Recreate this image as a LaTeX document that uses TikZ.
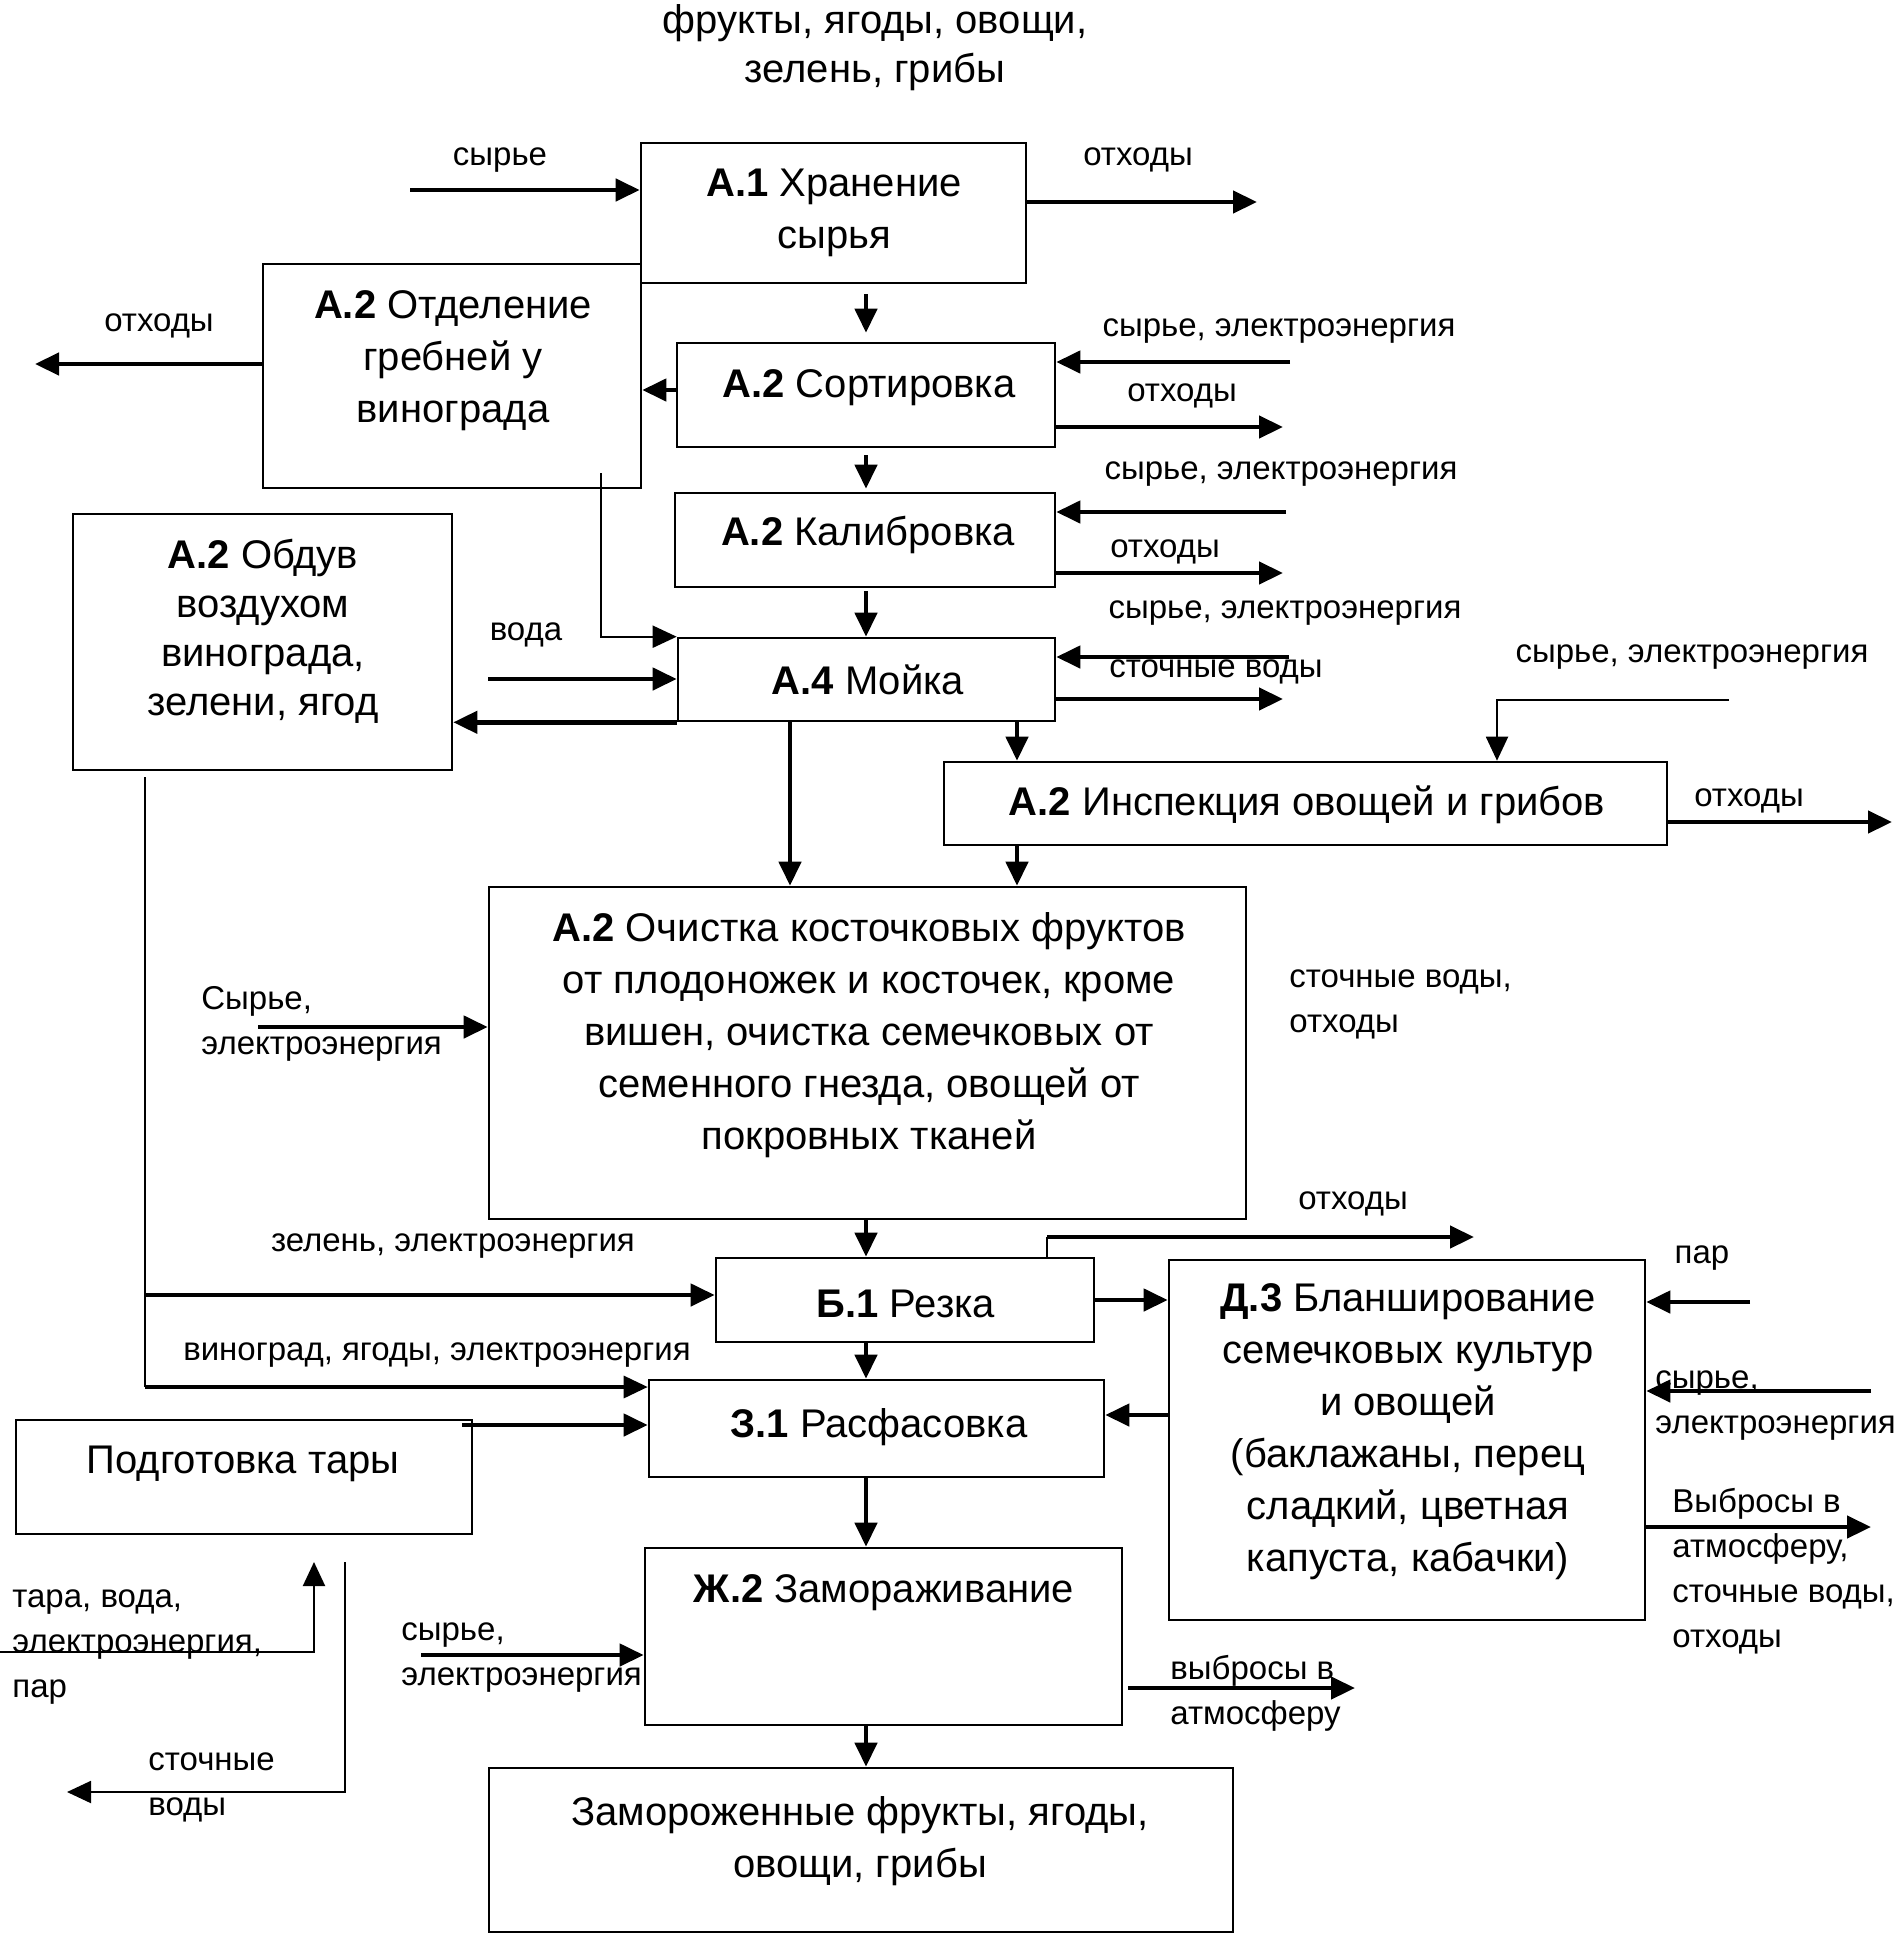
\documentclass[tikz,border=0pt]{standalone}
\usepackage{fontspec}
\setmainfont{Liberation Sans}
\usetikzlibrary{arrows.meta,fit}
\newcommand\bfnt{\fontsize{20}{26}\selectfont}
\newcommand\sfnt{\fontsize{16.5}{22.5}\selectfont}
\begin{document}
\begin{tikzpicture}[x=0.5pt,y=-0.5pt,
  box/.style={draw,line width=1.3pt,inner sep=0pt},
  btxt/.style={font=\bfnt,align=center,inner sep=0pt},
  lbl/.style={font=\sfnt,inner sep=0pt},
  lbll/.style={font=\sfnt,inner sep=0pt,align=left,anchor=west},
  arr/.style={line width=2.2pt,-{Triangle[length=12pt,width=11pt]}},
  tarr/.style={line width=1pt,-{Triangle[length=12pt,width=11pt]}}]
\useasboundingbox (0,0) rectangle (1901,1938);

% boxes
\node[box,fit={(641,143) (1026,283)}] (a1) {};
\node[box,fit={(263,264) (641,488)}] (otd) {};
\node[box,fit={(677,343) (1055,447)}] (sort) {};
\node[box,fit={(675,493) (1055,587)}] (kal) {};
\node[box,fit={(678,638) (1055,721)}] (moy) {};
\node[box,fit={(73,514) (452,770)}] (obd) {};
\node[box,fit={(944,762) (1667,845)}] (insp) {};
\node[box,fit={(489,887) (1246,1219)}] (och) {};
\node[box,fit={(716,1258) (1094,1342)}] (rez) {};
\node[box,fit={(1169,1260) (1645,1620)}] (blan) {};
\node[box,fit={(649,1380) (1104,1477)}] (rasf) {};
\node[box,fit={(16,1420) (472,1534)}] (podg) {};
\node[box,fit={(645,1548) (1122,1725)}] (zam) {};
\node[box,fit={(489,1768) (1233,1932)}] (prod) {};

% box texts
\node[btxt,font=\fontsize{20}{24.5}\selectfont] (t0) at (875,48) {фрукты, ягоды, овощи,\\зелень, грибы};
\node[btxt] (ta1) at (834,213) {\textbf{А.1} Хранение\\сырья};
\node[btxt] (totd) at (453,361) {\textbf{А.2} Отделение\\гребней у\\винограда};
\node[btxt] (tsort) at (869,388) {\textbf{А.2} Сортировка};
\node[btxt] (tkal) at (868,535) {\textbf{А.2} Калибровка};
\node[btxt] (tmoy) at (868,680) {\textbf{А.4} Мойка};
\node[btxt,font=\fontsize{20}{24.5}\selectfont] (tobd) at (263,631) {\textbf{А.2} Обдув\\воздухом\\винограда,\\зелени, ягод};
\node[btxt] (tinsp) at (1307,805) {\textbf{А.2} Инспекция овощей и грибов};
\node[btxt] (toch) at (869,1035) {\textbf{А.2} Очистка косточковых фруктов\\от плодоножек и косточек, кроме\\вишен, очистка семечковых от\\семенного гнезда, овощей от\\покровных тканей};
\node[btxt] (trez) at (906,1304) {\textbf{Б.1} Резка};
\node[btxt] (tblan) at (1408,1432) {\textbf{Д.3} Бланширование\\семечковых культур\\и овощей\\(баклажаны, перец\\сладкий, цветная\\капуста, кабачки)};
\node[btxt] (trasf) at (879,1427) {\textbf{З.1} Расфасовка};
\node[btxt] (tpodg) at (243,1464) {Подготовка тары};
\node[btxt] (tzam) at (884,1593) {\textbf{Ж.2} Замораживание};
\node[btxt] (tprod) at (860,1841) {Замороженные фрукты, ягоды,\\овощи, грибы};

% labels
\node[lbl] (l1) at (500,160) {сырье};
\node[lbl] (l2) at (1138,160) {отходы};
\node[lbl] (l3) at (159,326) {отходы};
\node[lbl] (l4) at (1279,331) {сырье, электроэнергия};
\node[lbl] (l5) at (1182,396) {отходы};
\node[lbl] (l6) at (1281,474) {сырье, электроэнергия};
\node[lbl] (l7) at (1165,552) {отходы};
\node[lbl] (l8) at (1285,613) {сырье, электроэнергия};
\node[lbl] (l9) at (1216,672) {сточные воды};
\node[lbl] (l10) at (526,635) {вода};
\node[lbl] (l11) at (1692,657) {сырье, электроэнергия};
\node[lbl] (l12) at (1749,801) {отходы};
\node[lbll] (l13) at (1289,1004) {сточные воды,\\отходы};
\node[lbll] (l14) at (201,1024) {Сырье,\\электроэнергия};
\node[lbl] (l15) at (453,1246) {зелень, электроэнергия};
\node[lbl] (l16) at (1353,1204) {отходы};
\node[lbl] (l17) at (1702,1258) {пар};
\node[lbl] (l18) at (437,1355) {виноград, ягоды, электроэнергия};
\node[lbll] (l19) at (1655,1406) {сырье,\\электроэнергия};
\node[lbll] (l20) at (1672,1571) {Выбросы в\\атмосферу,\\сточные воды,\\отходы};
\node[lbll] (l21) at (12,1647) {тара, вода,\\электроэнергия,\\пар};
\node[lbll] (l22) at (401,1658) {сырье,\\электроэнергия};
\node[lbll] (l23) at (1170,1693) {выбросы в\\атмосферу};
\node[lbll] (l24) at (148,1787) {сточные\\воды};

% free ends
\coordinate (i1) at (410,190);
\coordinate (o1) at (1257,202);
\coordinate (o2) at (35,364);
\coordinate (i2) at (1290,362);
\coordinate (o3) at (1283,427);
\coordinate (i3) at (1286,512);
\coordinate (o4) at (1283,573);
\coordinate (s1) at (601,473);
\coordinate (i4) at (488,679);
\coordinate (i5) at (1289,657);
\coordinate (o5) at (1283,699);
\coordinate (i6) at (1729,700);
\coordinate (o6) at (1892,822);
\coordinate (i7) at (258,1027);
\coordinate (r1) at (1047,1237);
\coordinate (o7) at (1474,1237);
\coordinate (i8) at (1750,1302);
\coordinate (i9) at (1871,1391);
\coordinate (o8) at (1871,1527);
\coordinate (s2) at (145,777);
\coordinate (j1) at (145,1295);
\coordinate (j2) at (145,1387);
\coordinate (s3) at (462,1425);
\coordinate (i10) at (421,1655);
\coordinate (o9) at (1355,1688);
\coordinate (i11) at (0,1652);
\coordinate (i11e) at (314,1562);
\coordinate (s4) at (345,1562);
\coordinate (o10) at (67,1792);
\coordinate (col) at (866,0);

% connectors
\draw[arr] (i1) -- (i1 -| a1.west);
\draw[arr] (a1.east |- o1) -- (o1);
\draw[arr,shorten <=5pt,shorten >=4.5pt] (a1.south -| col) -- (sort.north -| col);
\draw[arr] (sort.west |- 0,390) -- (otd.east |- 0,390);
\draw[arr] (otd.west |- o2) -- (o2);
\draw[arr] (i2) -- (i2 -| sort.east);
\draw[arr] (sort.east |- o3) -- (o3);
\draw[arr,shorten <=3.5pt,shorten >=1.5pt] (sort.south -| col) -- (kal.north -| col);
\draw[arr] (i3) -- (i3 -| kal.east);
\draw[arr] (kal.east |- o4) -- (o4);
\draw[arr,shorten <=1.5pt] (kal.south -| col) -- (moy.north -| col);
\draw[tarr] (s1) |- (moy.north west);
\draw[arr] (i4) -- (i4 -| moy.west);
\draw[arr] (moy.south west) -- (obd.east |- moy.south west);
\draw[arr] (i5) -- (i5 -| moy.east);
\draw[arr] (moy.east |- o5) -- (o5);
\draw[arr] (moy.south -| 790,0) -- (och.north -| 790,0);
\draw[arr] (moy.south -| 1017,0) -- (insp.north -| 1017,0);
\draw[tarr] (i6) -| (insp.north -| 1497,0);
\draw[arr] (insp.east |- o6) -- (o6);
\draw[arr] (insp.south -| 1017,0) -- (och.north -| 1017,0);
\draw[arr] (i7) -- (i7 -| och.west);
\draw[arr] (och.south -| col) -- (rez.north -| col);
\draw[line width=0.6pt] (rez.north -| r1) -- (r1);
\draw[arr] (r1) -- (o7);
\draw[arr] (rez.east |- 0,1300) -- (blan.west |- 0,1300);
\draw[arr] (i8) -- (i8 -| blan.east);
\draw[arr] (i9) -- (i9 -| blan.east);
\draw[arr] (blan.east |- o8) -- (o8);
\draw[arr] (blan.west |- 0,1415) -- (rasf.east |- 0,1415);
\draw[arr] (rez.south -| col) -- (rasf.north -| col);
\draw[line width=1pt] (s2) -- (j2);
\draw[arr] (j1) -- (j1 -| rez.west);
\draw[arr,line width=1.6pt] (j2) -- (j2 -| rasf.west);
\draw[arr] (s3) -- (s3 -| rasf.west);
\draw[arr] (rasf.south -| col) -- (zam.north -| col);
\draw[arr] (i10) -- (i10 -| zam.west);
\draw[arr,shorten <=2.5pt] (zam.east |- o9) -- (o9);
\draw[arr] (zam.south -| col) -- (prod.north -| col);
\draw[tarr] (i11) -| (i11e);
\draw[tarr] (s4) |- (o10);
\end{tikzpicture}
\end{document}
